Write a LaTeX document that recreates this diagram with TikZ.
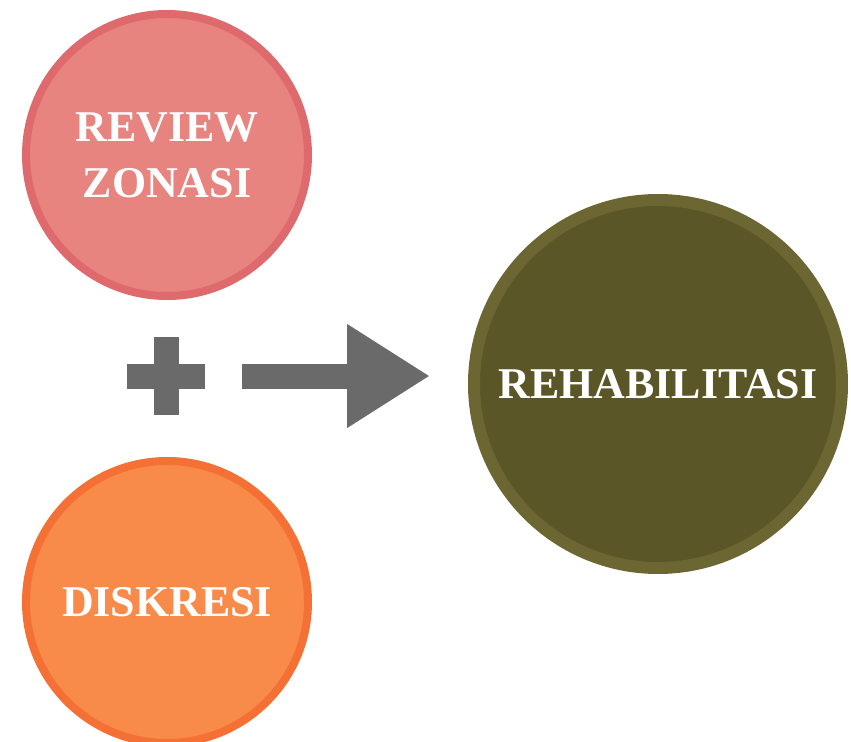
\documentclass[tikz,border=0pt]{standalone}
\usepackage{fontspec}
\setmainfont{Liberation Serif}
\usetikzlibrary{arrows.meta,positioning}

\definecolor{pinkfill}{RGB}{232,132,127}
\definecolor{pinkline}{RGB}{222,106,110}
\definecolor{orangefill}{RGB}{248,139,74}
\definecolor{orangeline}{RGB}{244,112,52}
\definecolor{olivefill}{RGB}{91,86,40}
\definecolor{oliveline}{RGB}{108,102,50}
\definecolor{signgray}{RGB}{106,106,106}

\begin{document}
\begin{tikzpicture}[>=Latex]

% ---------- styles ----------
\tikzset{
  bubble/.style={circle, line width=0.08cm, text=white,
    font=\bfseries\fontsize{12.5}{16}\selectfont, align=center, inner sep=0pt},
  plusbar/.style={rectangle, fill=signgray, inner sep=0pt},
  bigarrow/.style={signgray, line width=0.25cm,
    -{Triangle[length=0.83cm, width=0.98cm]}}
}

% ---------- canvas ----------
\useasboundingbox (0,0) rectangle (8.51,7.41);

% ---------- inputs ----------
\node[bubble, minimum size=2.82cm, fill=pinkfill, draw=pinkline]
  (review) at (1.67,5.86) {REVIEW\\ZONASI};

\node[bubble, minimum size=2.82cm, fill=orangefill, draw=orangeline]
  (diskresi) at (1.67,1.39) {DISKRESI};

% ---------- result ----------
\node[bubble, minimum size=3.68cm, line width=0.12cm,
  fill=olivefill, draw=oliveline]
  (rehab) at (6.58,3.57) {REHABILITASI};

% ---------- plus sign ----------
\node[plusbar, minimum width=0.78cm, minimum height=0.25cm]
  (plus) at (1.66,3.65) {};
\node[plusbar, minimum width=0.25cm, minimum height=0.78cm] at (plus) {};

% ---------- arrow ----------
\draw[bigarrow] ([xshift=0.36cm]plus.east) -- ([xshift=-0.38cm]rehab.west |- plus.east);

\end{tikzpicture}
\end{document}
